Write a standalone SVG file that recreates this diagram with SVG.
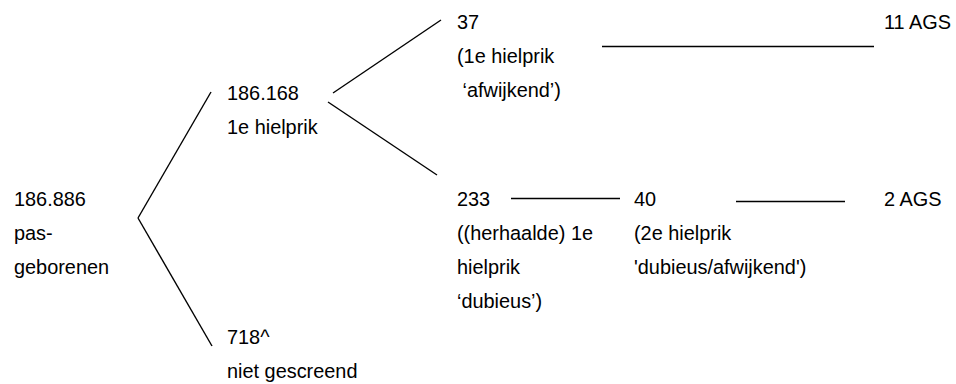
<svg xmlns="http://www.w3.org/2000/svg" width="956" height="384" viewBox="0 0 956 384">
  <style>
    text { font-family: "Liberation Sans", Arial, sans-serif; font-size: 19.9px; fill: #000; }
    .link { stroke: #000; stroke-width: 1.4; fill: none; stroke-linecap: butt; }
  </style>
  <rect width="956" height="384" fill="#fff"/>

  <!-- connectors -->
  <g id="connectors">
    <line class="link" x1="138" y1="218" x2="211" y2="92"/>
    <line class="link" x1="138" y1="218" x2="212" y2="346"/>
    <line class="link" x1="333" y1="93" x2="441" y2="20"/>
    <line class="link" x1="328" y1="102" x2="437" y2="175"/>
    <line class="link" x1="602" y1="46.5" x2="874" y2="46.5"/>
    <line class="link" x1="511" y1="198.5" x2="620" y2="198.5"/>
    <line class="link" x1="736" y1="201.5" x2="845" y2="201.5"/>
  </g>

  <!-- nodes -->
  <g id="pasgeborenen">
    <text x="14" y="205.5">186.886</text>
    <text x="14" y="239.5">pas-</text>
    <text x="14" y="273.5">geborenen</text>
  </g>
  <g id="hielprik1">
    <text x="227" y="99.5">186.168</text>
    <text x="227" y="133.5">1e hielprik</text>
  </g>
  <g id="niet-gescreend">
    <text x="227" y="344">718^</text>
    <text x="227" y="378">niet gescreend</text>
  </g>
  <g id="afwijkend">
    <text x="457" y="29">37</text>
    <text x="457" y="63">(1e hielprik</text>
    <text x="457" y="97" xml:space="preserve"> ‘afwijkend’)</text>
  </g>
  <g id="dubieus">
    <text x="457" y="205.5">233</text>
    <text x="457" y="239.5">((herhaalde) 1e</text>
    <text x="457" y="273.5">hielprik</text>
    <text x="457" y="307.5">‘dubieus’)</text>
  </g>
  <g id="hielprik2">
    <text x="634" y="205.5">40</text>
    <text x="634" y="239.5">(2e hielprik</text>
    <text x="634" y="273.5">'dubieus/afwijkend')</text>
  </g>
  <g id="ags-11">
    <text x="884" y="29">11 AGS</text>
  </g>
  <g id="ags-2">
    <text x="884" y="205.5">2 AGS</text>
  </g>
</svg>
